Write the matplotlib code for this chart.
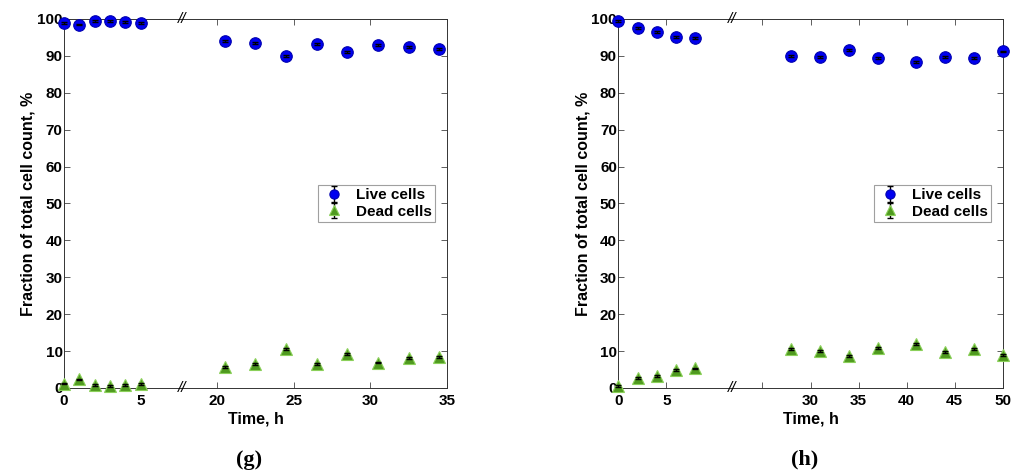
import matplotlib.pyplot as plt

# panel (g)
t_g = [0, 1, 2, 3, 4, 5, 20.5, 22.5, 24.5, 26.5, 28.5, 30.5, 32.5, 34.5]
live_g = [98.9, 98.5, 99.5, 99.5, 99.3, 99.0, 94.0, 93.6, 90.0, 93.2, 91.0, 93.0, 92.3, 91.9]
dead_g = [1.2, 2.3, 0.8, 0.5, 0.8, 1.1, 5.7, 6.6, 10.6, 6.4, 9.2, 6.9, 8.2, 8.5]
ticks_g = [0, 5, 20, 25, 30, 35]
labels_g = ['0', '5', '20', '25', '30', '35']

# panel (h)
t_h = [0, 2, 4, 6, 8, 28, 31, 34, 37, 41, 44, 47, 50]
live_h = [99.5, 97.6, 96.4, 95.2, 94.9, 90.0, 89.8, 91.6, 89.5, 88.3, 89.7, 89.4, 91.2]
dead_h = [0.6, 2.6, 3.2, 4.8, 5.3, 10.6, 10.1, 8.7, 10.9, 12.0, 9.7, 10.6, 8.9]
ticks_h = [0, 5, 25, 30, 35, 40, 45, 50]
labels_h = ['0', '5', '', '30', '35', '40', '45', '50']

err = 0.25
shift = 10  # gap removed from the time axis
blue = '#0000f0'
green = '#4f9a1f'

plt.rcParams['font.family'] = 'Liberation Sans'
plt.rcParams['font.weight'] = 'bold'
plt.rcParams['axes.labelweight'] = 'bold'

fig = plt.figure(figsize=(10.11, 4.75), dpi=100)


def squeeze(t, brk):
    return [v if v < brk else v - shift for v in t]


def panel(rect, t, live, dead, ticks, labels, brk, xmax, letter):
    ax = fig.add_axes(rect)
    x = squeeze(t, brk)
    m1, = ax.plot(x, live, 'o', ms=8.3, color=blue, mec='#0000b0', mew=0.8, clip_on=False, zorder=3)
    m2, = ax.plot(x, dead, '^', ms=8.5, color=green, mec='#8bd05a', mew=0.8, clip_on=False, zorder=3)
    e1 = ax.errorbar(x, live, yerr=err, fmt='none', ecolor='k', elinewidth=1, capsize=2.2, clip_on=False, zorder=4)
    e2 = ax.errorbar(x, dead, yerr=err, fmt='none', ecolor='k', elinewidth=1, capsize=2.2, clip_on=False, zorder=4)
    ax.set_xlim(0, xmax - shift)
    ax.set_ylim(0, 100)
    ax.set_xticks(squeeze(ticks, brk))
    ax.set_xticklabels(labels)
    ax.set_yticks(range(0, 101, 10))
    ax.tick_params(direction='in', top=True, right=True, length=4, width=0.6,
                   labelsize=11, color='#444444', pad=4)
    ax.tick_params(axis='y', pad=1)
    for s in ax.spines.values():
        s.set_linewidth(0.7)
        s.set_color('#333333')
    ax.set_xlabel('Time, h', fontsize=11.5, labelpad=3)
    ax.set_ylabel('Fraction of total cell count, %', fontsize=11.5, labelpad=1)
    for yy in (0, 1):
        ax.text(brk, yy, '//', transform=ax.get_xaxis_transform(),
                ha='center', va='center', fontsize=11, fontweight='normal', style='italic')
    leg = ax.legend([(e1, m1), (e2, m2)], ['Live cells', 'Dead cells'],
                    loc='center right', bbox_to_anchor=(0.99, 0.5), fontsize=11,
                    fancybox=False, edgecolor='#888888', handlelength=1.6,
                    borderpad=0.25, labelspacing=0.15, markerscale=0.8, handletextpad=0.6)
    leg.get_frame().set_linewidth(0.8)
    cx = rect[0] + rect[2] / 2
    fig.text(cx - 0.006, 0.032, '(' + letter + ')', ha='center', va='center',
             fontsize=16, family='Liberation Serif')
    return ax


panel([0.0633, 0.1832, 0.3788, 0.7768], t_g, live_g, dead_g, ticks_g, labels_g, 7.7, 35, 'g')
panel([0.6116, 0.1832, 0.3802, 0.7768], t_h, live_h, dead_h, ticks_h, labels_h, 11.8, 50, 'h')

fig.savefig('out.png', dpi=100)
